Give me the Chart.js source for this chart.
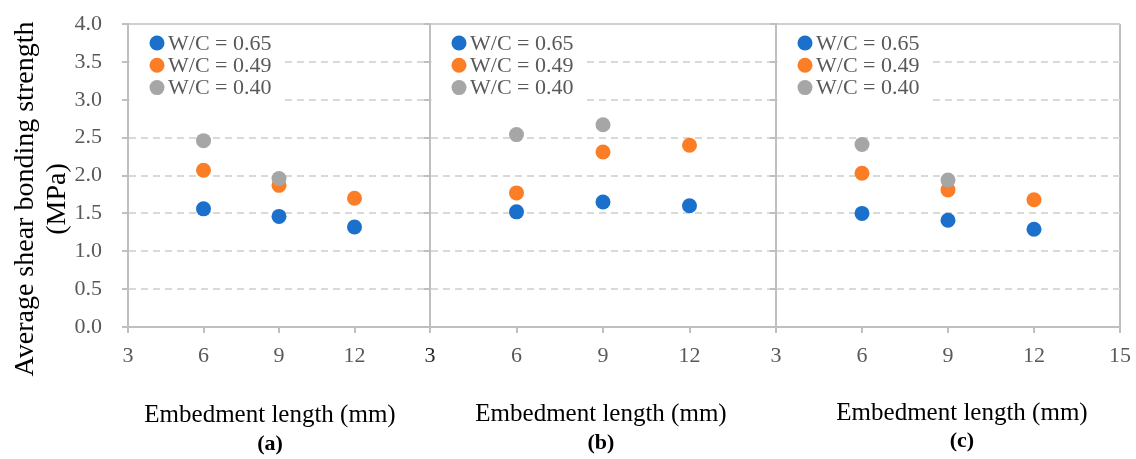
<!DOCTYPE html>
<html>
<head>
<meta charset="utf-8">
<title>Average shear bonding strength vs embedment length</title>
<script src="https://cdn.jsdelivr.net/npm/chart.js@4.4.1/dist/chart.umd.min.js"></script>
<style>
  html, body { margin: 0; padding: 0; background: #fff; }
  #wrap { position: relative; width: 1136px; height: 459px; overflow: hidden; font-family: "Liberation Serif", "Times New Roman", serif; }
  #wrap canvas { position: absolute; top: 0; }
  .ytitle { position: absolute; left: -160px; top: 167px; width: 400px; height: 64px; line-height: 32px;
            font-size: 28px; color: #000; text-align: center; transform: rotate(-90deg); white-space: nowrap; }
  .xtitle { position: absolute; width: 400px; line-height: 30px; font-size: 25px; color: #000; text-align: center; white-space: nowrap; }
  .caption { position: absolute; width: 100px; line-height: 26px; font-size: 22px; font-weight: bold; color: #000; text-align: center; }
</style>
</head>
<body>
<div id="wrap">
  <canvas id="chartA" width="440" height="459" style="left:0px"></canvas>
  <canvas id="chartB" width="368" height="459" style="left:418px"></canvas>
  <canvas id="chartC" width="372" height="459" style="left:764px"></canvas>

  <div class="ytitle">Average shear bonding strength<br>(MPa)</div>

  <div class="xtitle" style="left:70px; top:399px">Embedment length (mm)</div>
  <div class="caption" style="left:220px; top:430px">(a)</div>
  <div class="xtitle" style="left:401px; top:398px">Embedment length (mm)</div>
  <div class="caption" style="left:551px; top:429px">(b)</div>
  <div class="xtitle" style="left:762px; top:397px">Embedment length (mm)</div>
  <div class="caption" style="left:912px; top:427px">(c)</div>
</div>

<script>
// embedment lengths (mm) and series
const embedLengths = [6, 9, 12];
const seriesLabels = ['W/C = 0.65', 'W/C = 0.49', 'W/C = 0.40'];
const seriesColors = ['#1b70cc', '#fb7e27', '#a6a6a6'];

// axis ticks
const xTicks = [3, 6, 9, 12, 15];
const yTicks = [0, 0.5, 1, 1.5, 2, 2.5, 3, 3.5, 4];

// panel (a) values, MPa
const panelA065 = [1.56, 1.46, 1.32];
const panelA049 = [2.07, 1.87, 1.70];
const panelA040 = [2.46, 1.96];

// panel (b) values, MPa
const panelB065 = [1.52, 1.65, 1.60];
const panelB049 = [1.77, 2.31, 2.40];
const panelB040 = [2.54, 2.67];

// panel (c) values, MPa
const panelC065 = [1.50, 1.41, 1.29];
const panelC049 = [2.03, 1.81, 1.68];
const panelC040 = [2.41, 1.94];

const FONT = '"Liberation Serif", "Times New Roman", serif';
const AXIS_GREY = '#bfbfbf';
const TICK_TEXT = '#595959';

function toPoints(values) {
    return values.map((v, i) => ({ x: embedLengths[i], y: v }));
}

function makeDatasets(series) {
    // grey drawn on top, then orange, then blue
    return series.map((values, i) => ({
        label: seriesLabels[i],
        data: toPoints(values),
        backgroundColor: seriesColors[i],
        borderWidth: 0,
        pointRadius: 7.5,
        pointHoverRadius: 7.5,
        showLine: false,
        order: series.length - i
    }));
}

// legend drawn inside the plot area on a white box
const insideLegend = {
    id: 'insideLegend',
    afterDatasetsDraw(chart) {
        const { ctx, chartArea } = chart;
        const datasets = chart.data.datasets;
        ctx.save();
        ctx.font = '22px ' + FONT;
        const dotX = chartArea.left + 29;
        const textX = dotX + 11;
        const textW = Math.max(...datasets.map(ds => ctx.measureText(ds.label).width));
        ctx.fillStyle = '#fff';
        ctx.fillRect(chartArea.left + 1.5, chartArea.top + 1.5, textX + textW + 13 - chartArea.left - 1.5, 84);

        ctx.textBaseline = 'middle';
        ctx.textAlign = 'left';
        datasets.forEach((ds, i) => {
            const y = chartArea.top + 19 + i * 22.3;
            ctx.beginPath();
            ctx.arc(dotX, y, 7.5, 0, Math.PI * 2);
            ctx.fillStyle = ds.backgroundColor;
            ctx.fill();
            ctx.fillStyle = TICK_TEXT;
            ctx.fillText(ds.label, textX, y + 1);
        });
        ctx.restore();
    }
};

function makeChart(canvasId, series, opts) {
    return new Chart(document.getElementById(canvasId), {
        type: 'scatter',
        data: { datasets: makeDatasets(series) },
        options: {
            responsive: false,
            animation: false,
            layout: { padding: { top: 24, right: opts.padRight, bottom: 0, left: 0 } },
            plugins: {
                legend: { display: false },
                tooltip: { enabled: false }
            },
            scales: {
                x: {
                    type: 'linear',
                    min: xTicks[0],
                    max: xTicks[xTicks.length - 1],
                    afterBuildTicks: (scale) => { scale.ticks = xTicks.map(v => ({ value: v })); },
                    afterFit: (scale) => {
                        scale.height = 132;
                        scale.paddingLeft = 0;
                        scale.paddingRight = 0;
                    },
                    border: { display: true, color: AXIS_GREY, width: 2 },
                    grid: {
                        color: (c) => (c.tick && c.tick.value === 15) ? AXIS_GREY : 'rgba(0,0,0,0)',
                        lineWidth: 2,
                        drawTicks: true,
                        tickLength: 6,
                        tickColor: AXIS_GREY,
                        tickWidth: 2
                    },
                    ticks: {
                        autoSkip: false,
                        maxRotation: 0,
                        padding: 10,
                        font: { family: FONT, size: 22 },
                        color: opts.tickColor || TICK_TEXT,
                        callback: (v) => (v === 15 && !opts.showLast) ? '' : String(v)
                    }
                },
                y: {
                    type: 'linear',
                    min: yTicks[0],
                    max: yTicks[yTicks.length - 1],
                    afterBuildTicks: (scale) => { scale.ticks = yTicks.map(v => ({ value: v })); },
                    afterFit: (scale) => {
                        scale.width = opts.yWidth;
                        scale.paddingTop = 0;
                        scale.paddingBottom = 0;
                    },
                    border: {
                        display: true,
                        color: AXIS_GREY,
                        width: 2,
                        dash: (c) => (c.tick && (c.tick.value === 0 || c.tick.value === 4)) ? [] : [7, 5]
                    },
                    grid: {
                        color: (c) => {
                            if (!c.tick) return '#d9d9d9';
                            if (c.tick.value === 0) return AXIS_GREY;
                            if (c.tick.value === 4) return '#d0d0d0';
                            return '#d9d9d9';
                        },
                        lineWidth: 2,
                        drawTicks: true,
                        tickLength: 6,
                        tickColor: AXIS_GREY,
                        tickWidth: 2,
                        tickBorderDash: []
                    },
                    ticks: {
                        display: opts.showY,
                        padding: 20,
                        font: { family: FONT, size: 22 },
                        color: TICK_TEXT,
                        callback: (v) => Number(v).toFixed(1)
                    }
                }
            }
        },
        plugins: [insideLegend]
    });
}

makeChart('chartA', [panelA065, panelA049, panelA040], { padRight: 10, yWidth: 128, showY: true, showLast: false });
makeChart('chartB', [panelB065, panelB049, panelB040], {
    padRight: 10, yWidth: 12, showY: false, showLast: false,
    tickColor: (c) => (c.tick && c.tick.value === 3) ? '#262626' : TICK_TEXT
});
makeChart('chartC', [panelC065, panelC049, panelC040], { padRight: 16, yWidth: 12, showY: false, showLast: true });
</script>
</body>
</html>
